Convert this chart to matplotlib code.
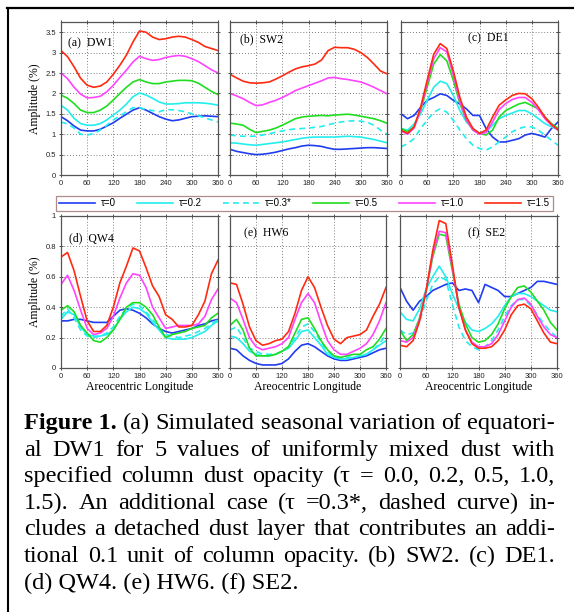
import matplotlib
matplotlib.use('Agg')
import matplotlib.pyplot as plt
import matplotlib.transforms as mtransforms
from matplotlib.lines import Line2D

# ---------------- data ----------------
LON = list(range(0, 361, 15))
XTICKS = [0, 60, 120, 180, 240, 300, 360]
TAU_LABELS = ['τ=0', 'τ=0.2', 'τ=0.3*', 'τ=0.5', 'τ=1.0', 'τ=1.5']

DW1_t00 = [1.43,1.33,1.20,1.10,1.08,1.08,1.12,1.20,1.28,1.39,1.49,1.59,1.65,1.59,1.51,1.43,1.37,1.33,1.35,1.39,1.43,1.44,1.45,1.44,1.43]
DW1_t02 = [1.71,1.59,1.39,1.26,1.22,1.22,1.26,1.35,1.47,1.59,1.74,1.92,2.01,1.96,1.88,1.79,1.74,1.74,1.75,1.77,1.77,1.77,1.76,1.74,1.71]
DW1_t03 = [1.30,1.25,1.15,1.00,0.98,1.02,1.10,1.22,1.35,1.45,1.55,1.65,1.65,1.60,1.58,1.55,1.60,1.60,1.58,1.55,1.50,1.45,1.40,1.35,1.30]
DW1_t05 = [1.96,1.88,1.75,1.59,1.53,1.53,1.59,1.69,1.84,2.00,2.15,2.28,2.34,2.28,2.24,2.24,2.28,2.30,2.32,2.32,2.31,2.25,2.15,2.05,1.97]
DW1_t10 = [2.50,2.36,2.15,1.98,1.89,1.90,1.93,2.04,2.20,2.39,2.57,2.77,2.91,2.85,2.81,2.83,2.88,2.91,2.93,2.91,2.85,2.78,2.68,2.58,2.50]
DW1_t15 = [3.05,2.90,2.65,2.37,2.20,2.15,2.18,2.28,2.47,2.69,2.94,3.26,3.53,3.50,3.38,3.32,3.34,3.38,3.40,3.38,3.32,3.25,3.15,3.10,3.05]

SW2_t00 = [0.63,0.58,0.55,0.52,0.50,0.51,0.53,0.56,0.60,0.64,0.67,0.71,0.73,0.72,0.70,0.66,0.63,0.63,0.64,0.65,0.66,0.67,0.67,0.66,0.65]
SW2_t02 = [0.79,0.78,0.76,0.74,0.73,0.75,0.77,0.79,0.81,0.84,0.87,0.90,0.92,0.93,0.93,0.93,0.93,0.94,0.95,0.94,0.93,0.90,0.87,0.83,0.79]
SW2_t03 = [0.98,0.96,0.95,0.95,0.95,0.98,1.01,1.05,1.08,1.11,1.13,1.14,1.15,1.17,1.19,1.23,1.27,1.30,1.32,1.33,1.32,1.29,1.22,1.10,1.00]
SW2_t05 = [1.27,1.25,1.22,1.12,1.04,1.07,1.10,1.15,1.22,1.30,1.38,1.42,1.44,1.45,1.46,1.45,1.47,1.48,1.49,1.47,1.44,1.41,1.38,1.33,1.27]
SW2_t10 = [2.00,1.94,1.87,1.78,1.70,1.72,1.78,1.83,1.90,1.98,2.07,2.13,2.19,2.25,2.31,2.38,2.39,2.36,2.34,2.31,2.28,2.22,2.15,2.07,1.99]
SW2_t15 = [2.47,2.38,2.30,2.26,2.25,2.26,2.28,2.35,2.43,2.52,2.60,2.65,2.68,2.72,2.82,3.05,3.13,3.12,3.12,3.08,3.00,2.88,2.72,2.55,2.48]

DE1_t00 = [1.50,1.38,1.46,1.66,1.83,1.90,1.99,1.95,1.83,1.74,1.62,1.46,1.46,1.14,0.93,0.81,0.81,0.85,0.89,0.98,1.02,0.98,0.93,1.14,1.30]
DE1_t02 = [1.14,1.10,1.25,1.50,1.83,2.15,2.30,2.24,1.95,1.58,1.30,1.14,1.02,1.06,1.22,1.38,1.46,1.52,1.58,1.58,1.50,1.38,1.26,1.18,1.11]
DE1_t03 = [0.69,0.77,0.89,1.14,1.34,1.54,1.62,1.54,1.34,1.10,0.89,0.73,0.65,0.61,0.69,0.81,0.93,1.06,1.14,1.18,1.18,1.10,0.98,0.85,0.73]
DE1_t05 = [1.14,1.06,1.18,1.58,2.15,2.72,2.95,2.80,2.32,1.75,1.34,1.10,1.02,0.98,1.10,1.42,1.58,1.66,1.74,1.78,1.70,1.62,1.42,1.26,1.14]
DE1_t10 = [1.08,1.00,1.15,1.60,2.25,2.85,3.12,3.02,2.45,1.80,1.35,1.10,1.00,1.04,1.30,1.60,1.75,1.85,1.90,1.90,1.78,1.60,1.38,1.22,1.10]
DE1_t15 = [1.10,1.02,1.18,1.66,2.32,2.96,3.22,3.10,2.55,1.90,1.42,1.14,1.02,1.10,1.42,1.71,1.84,1.95,2.00,1.99,1.87,1.66,1.42,1.24,1.11]

QW4_t00 = [0.31,0.31,0.32,0.32,0.31,0.30,0.30,0.30,0.34,0.38,0.39,0.38,0.36,0.33,0.29,0.26,0.24,0.23,0.24,0.25,0.26,0.28,0.29,0.31,0.32]
QW4_t02 = [0.32,0.37,0.35,0.27,0.22,0.21,0.21,0.22,0.25,0.32,0.37,0.40,0.39,0.36,0.30,0.25,0.20,0.19,0.19,0.19,0.20,0.22,0.24,0.28,0.31]
QW4_t03 = [0.34,0.39,0.33,0.25,0.21,0.20,0.21,0.23,0.27,0.34,0.39,0.42,0.41,0.37,0.32,0.26,0.22,0.21,0.20,0.21,0.22,0.24,0.26,0.29,0.32]
QW4_t05 = [0.38,0.41,0.37,0.28,0.23,0.18,0.17,0.20,0.25,0.32,0.40,0.43,0.43,0.40,0.35,0.27,0.20,0.22,0.23,0.24,0.26,0.27,0.28,0.33,0.36]
QW4_t10 = [0.55,0.61,0.51,0.38,0.26,0.22,0.23,0.26,0.34,0.46,0.56,0.62,0.61,0.53,0.40,0.33,0.26,0.27,0.28,0.28,0.28,0.29,0.34,0.45,0.52]
QW4_t15 = [0.73,0.76,0.64,0.47,0.31,0.24,0.24,0.28,0.40,0.56,0.67,0.79,0.77,0.66,0.54,0.47,0.35,0.32,0.27,0.27,0.28,0.35,0.44,0.62,0.71]

HW6_t00 = [0.13,0.12,0.08,0.05,0.03,0.02,0.02,0.02,0.03,0.06,0.11,0.15,0.16,0.14,0.11,0.08,0.06,0.05,0.05,0.06,0.07,0.08,0.10,0.12,0.13]
HW6_t02 = [0.21,0.20,0.16,0.11,0.09,0.08,0.08,0.09,0.11,0.13,0.18,0.24,0.25,0.20,0.15,0.09,0.07,0.06,0.06,0.07,0.08,0.09,0.12,0.15,0.18]
HW6_t03 = [0.25,0.27,0.20,0.13,0.11,0.09,0.09,0.09,0.11,0.14,0.20,0.27,0.29,0.24,0.17,0.11,0.07,0.06,0.07,0.07,0.08,0.09,0.12,0.16,0.22]
HW6_t05 = [0.28,0.32,0.25,0.13,0.08,0.08,0.08,0.09,0.11,0.14,0.23,0.32,0.33,0.26,0.18,0.12,0.08,0.07,0.08,0.09,0.09,0.12,0.14,0.19,0.26]
HW6_t10 = [0.46,0.43,0.32,0.20,0.14,0.12,0.13,0.14,0.16,0.20,0.32,0.43,0.49,0.43,0.30,0.18,0.12,0.09,0.09,0.11,0.13,0.16,0.22,0.31,0.43]
HW6_t15 = [0.56,0.55,0.42,0.27,0.18,0.15,0.16,0.18,0.19,0.24,0.36,0.51,0.60,0.53,0.40,0.28,0.19,0.16,0.20,0.21,0.22,0.25,0.34,0.42,0.53]

SE2_t00 = [0.53,0.44,0.38,0.44,0.47,0.51,0.53,0.55,0.56,0.51,0.52,0.51,0.43,0.55,0.53,0.51,0.47,0.47,0.49,0.51,0.53,0.57,0.57,0.56,0.55]
SE2_t02 = [0.37,0.32,0.31,0.39,0.52,0.60,0.67,0.60,0.49,0.39,0.30,0.25,0.24,0.26,0.29,0.34,0.41,0.47,0.49,0.49,0.47,0.44,0.41,0.38,0.37]
SE2_t03 = [0.25,0.22,0.23,0.31,0.44,0.55,0.60,0.58,0.42,0.27,0.18,0.14,0.12,0.14,0.18,0.25,0.34,0.41,0.45,0.45,0.41,0.35,0.29,0.24,0.20]
SE2_t05 = [0.25,0.18,0.22,0.33,0.51,0.73,0.88,0.87,0.64,0.42,0.29,0.20,0.17,0.18,0.22,0.29,0.39,0.47,0.53,0.54,0.50,0.44,0.38,0.30,0.25]
SE2_t10 = [0.18,0.17,0.20,0.32,0.51,0.75,0.90,0.89,0.66,0.40,0.25,0.17,0.14,0.14,0.16,0.22,0.31,0.40,0.45,0.46,0.42,0.34,0.27,0.22,0.20]
SE2_t15 = [0.15,0.14,0.18,0.31,0.51,0.77,0.97,0.95,0.68,0.40,0.25,0.16,0.13,0.13,0.14,0.18,0.25,0.35,0.41,0.42,0.39,0.31,0.23,0.17,0.16]

PANELS = [
    ('(a)  DW1', [DW1_t00, DW1_t02, DW1_t03, DW1_t05, DW1_t10, DW1_t15]),
    ('(b)  SW2', [SW2_t00, SW2_t02, SW2_t03, SW2_t05, SW2_t10, SW2_t15]),
    ('(c)  DE1', [DE1_t00, DE1_t02, DE1_t03, DE1_t05, DE1_t10, DE1_t15]),
    ('(d)  QW4', [QW4_t00, QW4_t02, QW4_t03, QW4_t05, QW4_t10, QW4_t15]),
    ('(e)  HW6', [HW6_t00, HW6_t02, HW6_t03, HW6_t05, HW6_t10, HW6_t15]),
    ('(f)  SE2', [SE2_t00, SE2_t02, SE2_t03, SE2_t05, SE2_t10, SE2_t15]),
]
TOP_YTICKS = [0, 0.5, 1, 1.5, 2, 2.5, 3, 3.5]
TOP_YLABELS = ['0', '0.5', '1', '1.5', '2', '2.5', '3', '3.5']
BOT_YTICKS = [0, 0.2, 0.4, 0.6, 0.8, 1.0]
BOT_YLABELS = ['0', '0.2', '0.4', '0.6', '0.8', '1']

CAPTION_LINES = [
    "Figure 1. (a) Simulated seasonal variation of equatori-",
    "al DW1 for 5 values of uniformly mixed dust with",
    "specified column dust opacity (τ = 0.0, 0.2, 0.5, 1.0,",
    "1.5). An additional case (τ =0.3*, dashed curve) in-",
    "cludes a detached dust layer that contributes an addi-",
    "tional 0.1 unit of column opacity. (b) SW2. (c) DE1.",
    "(d) QW4. (e) HW6. (f) SE2.",
]

# ---------------- styles / layout ----------------
COLORS = ['#1f3cf0', '#22eeee', '#22eeee', '#1fdd1f', '#ff44ff', '#ff2a10']
STYLES = ['-', '-', (0, (3.5, 2.5)), '-', '-', '-']
W, H = 574, 612
SERIF = 'Liberation Serif'
SANS = 'Liberation Sans'

fig = plt.figure(figsize=(W / 100, H / 100), dpi=100)
fig.patch.set_facecolor('white')

def px_rect(x0, y0, x1, y1):
    return [x0 / W, 1 - y1 / H, (x1 - x0) / W, (y1 - y0) / H]

boxes = [
    px_rect(61, 22, 218, 175), px_rect(230, 22, 387, 175), px_rect(401, 22, 558, 175),
    px_rect(61, 216, 218, 368), px_rect(230, 216, 386, 368), px_rect(400, 216, 557, 368),
]
label_pos = [(7, 21), (10, 17), (67, 16), (8, 22), (14, 17), (68, 17)]

handles = []
for i, (name, series) in enumerate(PANELS):
    ax = fig.add_axes(boxes[i])
    top = i < 3
    for j, vals in enumerate(series):
        ln, = ax.plot(LON, vals, color=COLORS[j], linestyle=STYLES[j], lw=1.2)
        if i == 0:
            handles.append(ln)
    ax.set_xlim(0, 360)
    ax.set_xticks(XTICKS)
    ax.set_xticklabels([str(v) for v in XTICKS])
    if top:
        ax.set_ylim(0, 3.75)
        ax.set_yticks(TOP_YTICKS)
        ax.set_yticklabels(TOP_YLABELS if i == 0 else [])
    else:
        ax.set_ylim(0, 1.0)
        ax.set_yticks(BOT_YTICKS)
        ax.set_yticklabels(BOT_YLABELS if i == 3 else [])
        ax.set_xlabel('Areocentric Longitude', family=SERIF, fontsize=8.5, labelpad=1)
    if i in (0, 3):
        ax.set_ylabel('Amplitude (%)', family=SERIF, fontsize=8.5, labelpad=3)
    ax.grid(True, color='#555555', linestyle=(0, (1, 2.5)), lw=0.6)
    ax.tick_params(direction='inout', length=3, width=0.6, labelsize=5.5, pad=2,
                   top=True, right=True, colors='#333333', labelcolor='#222222')
    for lab in ax.get_xticklabels() + ax.get_yticklabels():
        lab.set_family(SANS)
    for s in ax.spines.values():
        s.set_color('#555555')
        s.set_linewidth(0.9)
    lx, ly = label_pos[i]
    bw = boxes[i][2] * W
    bh = boxes[i][3] * H
    ax.text(lx / bw, 1 - ly / bh, name, transform=ax.transAxes, family=SERIF,
            fontsize=8.5, va='center', ha='left')

leg = fig.legend(handles, TAU_LABELS, loc='center', ncol=6, mode='expand',
                 bbox_to_anchor=(56 / W, 1 - 213 / H, (553 - 56) / W, 19 / H),
                 prop={'family': SANS, 'size': 7}, handlelength=3.7, handletextpad=0.6,
                 frameon=True, fancybox=False, borderpad=0.3, borderaxespad=0)
leg.get_frame().set_edgecolor('#9a7070')
leg.get_frame().set_linewidth(0.9)

# border of the figure box (top and left edges)
fig.add_artist(Line2D([7 / W, 1.0], [1 - 7.5 / H, 1 - 7.5 / H], transform=fig.transFigure,
                      color='black', lw=1.6))
fig.add_artist(Line2D([7.5 / W, 7.5 / W], [0, 1 - 7.5 / H], transform=fig.transFigure,
                      color='black', lw=1.5))

# ---------------- justified caption ----------------
X0, X1 = 24, 555
BASE0, LSP = 429, 26.6
ident = mtransforms.IdentityTransform()
fig.canvas.draw()
renderer = fig.canvas.get_renderer()

def line_items(li, line):
    words = line.split(' ')
    items = []
    if li == 0:
        items.append(('Figure 1.', 'bold'))
        words = words[2:]
    items += [(w, 'normal') for w in words]
    return items

def measure(s, fs, wt='normal'):
    t = fig.text(0, 0, s, transform=ident, family=SERIF, fontsize=fs, weight=wt)
    w = t.get_window_extent(renderer).width
    t.remove()
    return w

# choose the font size so the widest justified line fits with normal word spacing
REF_FS = 10.0
sp = measure('x x', REF_FS) - measure('xx', REF_FS)
natural = []
for li, line in enumerate(CAPTION_LINES[:-1]):
    its = line_items(li, line)
    natural.append(sum(measure(w, REF_FS, wt) for w, wt in its) + sp * (len(its) - 1))
CAP_FS = REF_FS * (X1 - X0) / max(natural)

for li, line in enumerate(CAPTION_LINES):
    yb = H - (BASE0 + li * LSP)
    items = line_items(li, line)
    if li == len(CAPTION_LINES) - 1:
        fig.text(X0, yb, line, transform=ident, family=SERIF, fontsize=CAP_FS, va='baseline')
        continue
    arts = []
    for w, wt in items:
        t = fig.text(0, yb, w, transform=ident, family=SERIF, fontsize=CAP_FS,
                     weight=wt, va='baseline')
        arts.append(t)
    widths = [a.get_window_extent(renderer).width for a in arts]
    gap = (X1 - X0 - sum(widths)) / (len(arts) - 1)
    x = X0
    for a, wdt in zip(arts, widths):
        a.set_x(x)
        x += wdt + gap

fig.savefig('out.png', dpi=100)
